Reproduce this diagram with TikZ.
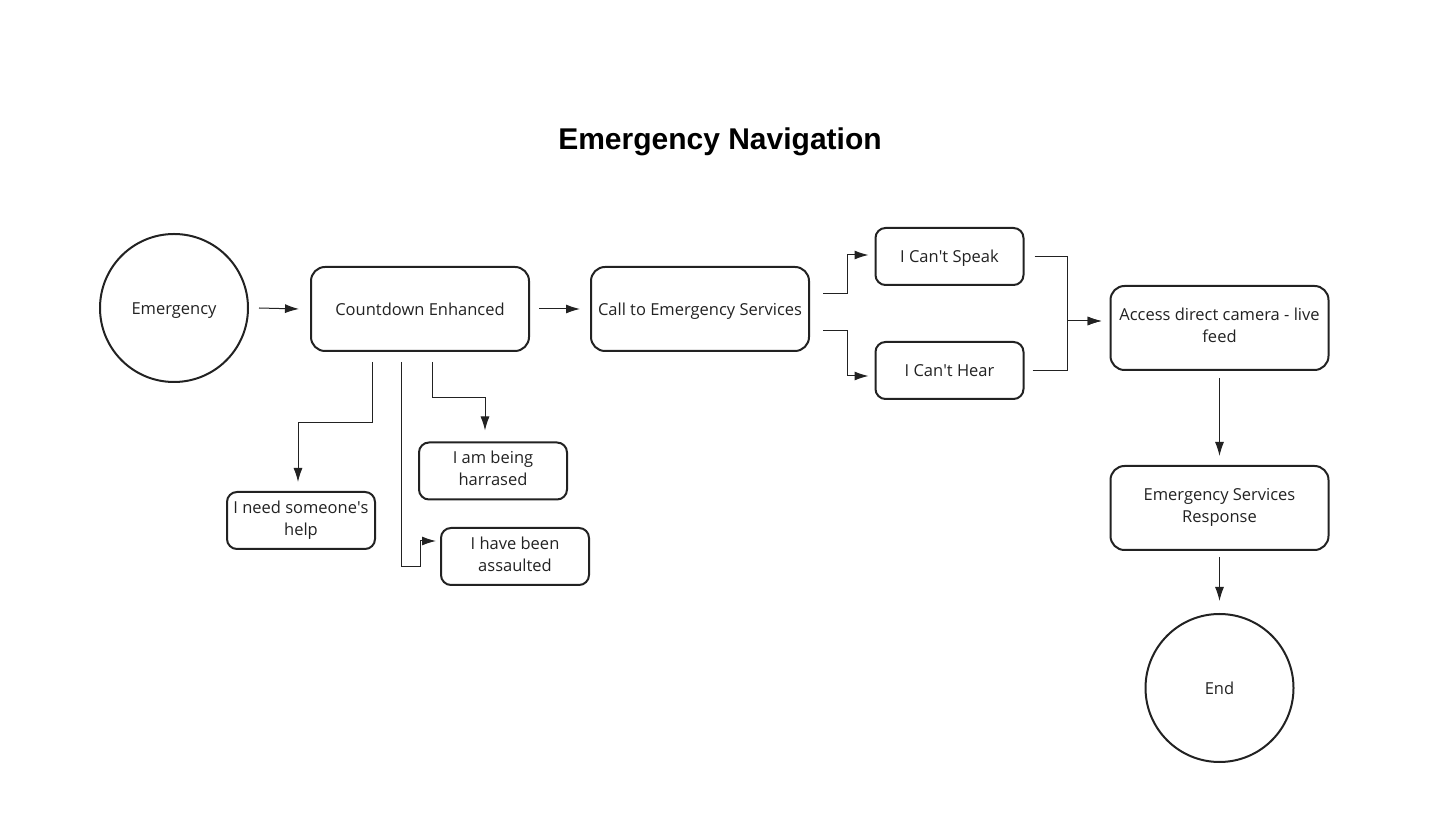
\documentclass[tikz,border=0pt]{standalone}
\usepackage{fontspec}
\setmainfont{Open Sans}
\newfontfamily\titlefont{Liberation Sans}
\usetikzlibrary{arrows.meta}
\definecolor{ln}{HTML}{222222}
\newcommand{\apos}{\textquotesingle}
\tikzset{
  every node/.style={font=\fontsize{8.25}{11}\selectfont, text=ln},
  boxtext/.style={execute at begin node=\rule{0pt}{8.6pt}, execute at end node=\rule[-2.4pt]{0pt}{2.4pt}},
  bigbox/.style={boxtext, draw=ln, line width=1pt, rounded corners=7pt, minimum width=109pt, minimum height=42pt, align=center, inner sep=0pt},
  smallbox/.style={boxtext, draw=ln, line width=1pt, rounded corners=5pt, minimum width=74pt, minimum height=28.5pt, align=center, inner sep=0pt},
  circ/.style={boxtext, draw=ln, line width=1pt, circle, minimum size=74pt, inner sep=0pt},
  arr/.style={draw=ln, line width=0.5pt, -{Latex[length=7pt,width=4.5pt]}},
}
\begin{document}
\begin{tikzpicture}[x=0.5pt,y=-0.5pt]
\useasboundingbox (0,0) rectangle (1440,822);
\node[font=\titlefont\bfseries\fontsize{15}{18}\selectfont, text=black] (title) at (720,142) {Emergency Navigation};
\node[circ] (emer) at (174,308) {Emergency};
\node[bigbox] (count) at (420,309) {Countdown Enhanced};
\node[bigbox] (call) at (700,309) {Call to Emergency Services};
\node[smallbox] (speak) at (949.5,256.5) {I Can\apos t Speak};
\node[smallbox] (hear) at (949.5,370.5) {I Can\apos t Hear};
\node[bigbox] (access) at (1219.5,328) {Access direct camera - live\\feed};
\node[bigbox] (resp) at (1219.5,508) {Emergency Services\\Response};
\node[circ] (end) at (1219.5,688) {End};
\node[smallbox] (help) at (301,520.5) {I need someone\apos s\\help};
\node[smallbox] (harr) at (493,471) {I am being\\harrased};
\node[smallbox] (ass) at (515,556.5) {I have been\\assaulted};

\draw[arr] ([xshift=5pt]emer.east) -- ([xshift=-5.5pt]count.west);
\draw[arr] ([xshift=4.5pt]count.east) -- ([xshift=-5pt]call.west);
\draw[arr] ([xshift=6.5pt,yshift=7.5pt]call.east) -- ++(24,0) |- ([xshift=-3pt,yshift=0.75pt]speak.west);
\draw[arr] ([xshift=6.5pt,yshift=-11pt]call.east) -- ++(24,0) |- ([xshift=-3pt,yshift=-2.75pt]hear.west);
\draw[arr] ([xshift=5pt]speak.east) -- ++(33,0) |- ([xshift=-4pt,yshift=3.5pt]access.west);
\draw[arr] ([xshift=4pt]hear.east) -- ++(35,0) |- ([xshift=-4pt,yshift=3.5pt]access.west);
\draw[arr] ([yshift=-3.5pt]access.south) -- ([yshift=4.5pt]resp.north);
\draw[arr] ([yshift=-3pt]resp.south) -- ([yshift=6pt]end.north);
\draw[arr] ([xshift=-24pt,yshift=-5pt]count.south) -- ++(0,61) -| ([xshift=-1.5pt,yshift=4.5pt]help.north);
\draw[arr] ([xshift=6pt,yshift=-5pt]count.south) -- ++(0,36) -| ([xshift=-4pt,yshift=5.5pt]harr.north);
\draw[arr] ([xshift=-9.5pt,yshift=-5pt]count.south) -- ++(0,205) -- ++(19,0) |- ([xshift=-2pt,yshift=7.75pt]ass.west);
\end{tikzpicture}
\end{document}
